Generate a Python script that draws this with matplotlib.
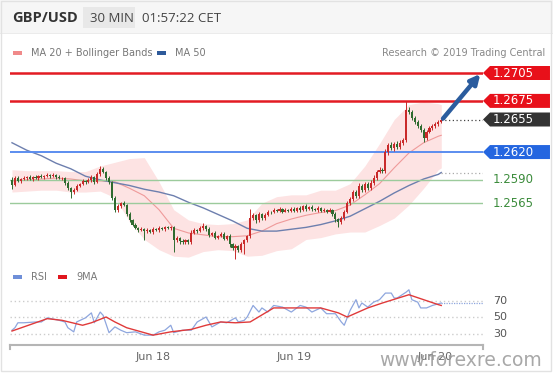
import matplotlib
matplotlib.use("Agg")
import matplotlib.pyplot as plt
import numpy as np
from matplotlib.patches import Polygon, Rectangle
from matplotlib.transforms import blended_transform_factory

# ---- price data: 30-min candles, Jun 17 00:00 -> Jun 20 01:00 ----
first_open = 1.2590
close = [
    1.2585, 1.2592, 1.2589, 1.2591, 1.2592, 1.2593, 1.2591, 1.2593, 1.2592, 1.2594,
    1.2593, 1.2594, 1.2595, 1.2594, 1.2595, 1.2593, 1.2592, 1.2592, 1.2587, 1.2581,
    1.2577, 1.2579, 1.2584, 1.2586, 1.2589, 1.2588, 1.2590, 1.2593, 1.2588, 1.2596,
    1.2602, 1.2599, 1.2592, 1.2588, 1.2571, 1.2558, 1.2562, 1.2565, 1.2563, 1.2553,
    1.2547, 1.2542, 1.2538, 1.2536, 1.2537, 1.2535, 1.2536, 1.2534, 1.2537, 1.2536,
    1.2538, 1.2537, 1.2539, 1.2538, 1.2539, 1.2525, 1.2528, 1.2524, 1.2523, 1.2525,
    1.2523, 1.2533, 1.2536, 1.2535, 1.2538, 1.2541, 1.2537, 1.2531, 1.2533, 1.2528,
    1.2530, 1.2532, 1.2527, 1.2530, 1.2521, 1.2517, 1.2519, 1.2515, 1.2521, 1.2525,
    1.2530, 1.2549, 1.2552, 1.2547, 1.2553, 1.2549, 1.2552, 1.2556, 1.2555, 1.2558,
    1.2557, 1.2559, 1.2556, 1.2558, 1.2557, 1.2559, 1.2557, 1.2560, 1.2558, 1.2562,
    1.2559, 1.2561, 1.2559, 1.2558, 1.2560, 1.2557, 1.2558, 1.2556, 1.2558, 1.2553,
    1.2548, 1.2545, 1.2549, 1.2556, 1.2565, 1.2569, 1.2577, 1.2573, 1.2584, 1.2579,
    1.2586, 1.2581, 1.2587, 1.2592, 1.2599, 1.2601, 1.2600, 1.2620, 1.2628, 1.2624,
    1.2629, 1.2625, 1.2630, 1.2633, 1.2665, 1.2663, 1.2657, 1.2652, 1.2648, 1.2644,
    1.2635, 1.2642, 1.2646, 1.2648, 1.2650, 1.2652, 1.2655,
]
# wick lengths beyond the body, in pips
wick_up = [
    3, 2, 2, 1, 2, 1, 2, 1, 2, 1, 2, 1, 2, 1, 2,
    1, 2, 1, 1, 2, 1, 2, 2, 1, 2, 1, 2, 2, 1, 3,
    3, 2, 1, 2, 1, 2, 2, 1, 2, 1, 2, 1, 2, 1, 2,
    1, 2, 1, 2, 1, 2, 1, 2, 2, 1, 1, 2, 1, 2, 1,
    2, 3, 2, 1, 2, 3, 1, 2, 1, 2, 1, 2, 2, 1, 2,
    1, 2, 1, 2, 2, 1, 10, 2, 1, 2, 1, 2, 2, 1, 2,
    1, 2, 1, 2, 1, 2, 2, 1, 2, 1, 2, 1, 2, 1, 2,
    1, 2, 1, 2, 1, 2, 1, 2, 2, 2, 3, 2, 2, 3, 2,
    2, 2, 3, 3, 2, 3, 2, 3, 2, 3, 2, 3, 3, 2, 10,
    3, 2, 2, 2, 2, 2, 2, 2, 2, 2, 2, 1,
]
wick_dn = [
    5, 2, 1, 2, 1, 2, 1, 2, 1, 2, 1, 2, 1, 2, 1,
    2, 1, 2, 2, 2, 6, 2, 1, 2, 1, 2, 1, 2, 2, 1,
    2, 1, 2, 2, 3, 3, 2, 2, 1, 2, 2, 2, 1, 2, 1,
    10, 2, 1, 2, 1, 2, 1, 2, 1, 2, 13, 2, 3, 2, 2,
    2, 2, 1, 2, 1, 2, 2, 2, 1, 2, 2, 1, 2, 2, 3,
    2, 12, 2, 2, 11, 2, 2, 2, 3, 2, 2, 2, 1, 2, 1,
    2, 1, 2, 1, 2, 1, 2, 1, 2, 1, 2, 1, 2, 1, 2,
    2, 1, 2, 1, 2, 3, 6, 2, 2, 2, 2, 2, 2, 2, 2,
    2, 2, 2, 2, 2, 2, 2, 2, 3, 2, 3, 2, 2, 2, 2,
    2, 3, 2, 2, 2, 4, 2, 2, 2, 2, 2, 1,
]

# indicators, read every 5th candle
ind_idx = [0, 5, 10, 15, 20, 25, 30, 35, 40, 45, 50, 55, 60, 65, 70, 75, 80, 85,
           90, 95, 100, 105, 110, 115, 120, 125, 130, 135, 140, 145, 146]
ma50 = [1.2630, 1.2622, 1.2616, 1.2608, 1.2602, 1.2594, 1.2590, 1.2587, 1.2584, 1.2580,
        1.2577, 1.2573, 1.2566, 1.2560, 1.2553, 1.2546, 1.2538, 1.2535, 1.2535, 1.2537,
        1.2539, 1.2542, 1.2546, 1.2551, 1.2559, 1.2567, 1.2576, 1.2584, 1.2591, 1.2596,
        1.2598]
ma20 = [1.2589, 1.2590, 1.2591, 1.2592, 1.2591, 1.2589, 1.2589, 1.2588, 1.2581, 1.2573,
        1.2558, 1.2538, 1.2533, 1.2531, 1.2529, 1.2529, 1.2530, 1.2535, 1.2543, 1.2548,
        1.2552, 1.2555, 1.2557, 1.2563, 1.2574, 1.2586, 1.2603, 1.2619, 1.2630, 1.2637,
        1.2638]
bb_upper = [1.2601, 1.2600, 1.2600, 1.2600, 1.2599, 1.2599, 1.2605, 1.2609, 1.2613, 1.2614,
            1.2588, 1.2558, 1.2547, 1.2543, 1.2542, 1.2543, 1.2547, 1.2565, 1.2572, 1.2574,
            1.2574, 1.2579, 1.2579, 1.2586, 1.2605, 1.2629, 1.2655, 1.2671, 1.2674, 1.2672,
            1.2671]
bb_lower = [1.2577, 1.2578, 1.2579, 1.2579, 1.2577, 1.2577, 1.2578, 1.2571, 1.2545, 1.2526,
            1.2515, 1.2508, 1.2507, 1.2513, 1.2515, 1.2514, 1.2508, 1.2509, 1.2514, 1.2516,
            1.2526, 1.2528, 1.2532, 1.2534, 1.2534, 1.2541, 1.2549, 1.2563, 1.2581, 1.2601,
            1.2603]

rsi_idx = [0, 1, 2, 4, 8, 10, 12, 16, 18, 19, 21, 22, 25, 27, 28, 30, 31, 33, 35, 37,
           39, 42, 45, 48, 50, 52, 54, 55, 58, 61, 63, 66, 67, 68, 71, 73, 76, 77, 79, 80,
           82, 84, 85, 87, 89, 92, 95, 98, 100, 102, 105, 107, 110, 112, 113, 114, 115, 117,
           118, 119, 121, 123, 125, 127, 129, 130, 131, 134, 135, 136, 138, 139, 141, 143,
           145, 146]
rsi_val = [34, 37, 43, 43, 44, 44, 49, 46, 44, 37, 32, 44, 49, 55, 43, 56, 52, 31, 38, 34,
           31, 32, 28, 28, 32, 34, 40, 31, 34, 34, 44, 50, 44, 38, 44, 43, 49, 44, 46, 50,
           64, 56, 61, 56, 64, 62, 56, 64, 62, 56, 61, 54, 54, 44, 40, 49, 58, 71,
           61, 67, 62, 68, 71, 79, 79, 73, 73, 80, 83, 71, 68, 61, 61, 64,
           66, 67]
rsi_ma_idx = [0, 12, 17, 24, 27, 32, 35, 39, 45, 48, 54, 61, 66, 71, 76, 81, 89, 105,
              111, 114, 121, 126, 135, 145, 146]
rsi_ma_val = [33, 48, 46, 40, 43, 50, 44, 37, 31, 28, 32, 35, 40, 44, 43, 44, 61, 61,
              55, 50, 61, 67, 77, 65, 64]

day_idx = [48, 96, 144]
day_labels = ["Jun 18", "Jun 19", "Jun 20"]

levels = [1.2705, 1.2675, 1.2620, 1.2590, 1.2565]
level_kind = ["res", "res", "pivot", "sup", "sup"]
rsi_levels = [70, 50, 30]

# ---- figure ----
W, H = 553, 375
fig = plt.figure(figsize=(W / 100, H / 100), dpi=100)
fig.patch.set_facecolor("white")


def px_axes(x0, y0, x1, y1):
    return fig.add_axes((x0 / W, 1 - y1 / H, (x1 - x0) / W, (y1 - y0) / H))


def ftext(x, y, s, **kw):
    kw.setdefault("va", "center")
    return fig.text(x / W, 1 - y / H, s, **kw)


def frect(x0, y0, x1, y1, **kw):
    fig.patches.append(Rectangle((x0 / W, 1 - y1 / H), (x1 - x0) / W, (y1 - y0) / H,
                                 transform=fig.transFigure, **kw))


# header strip and frame
frect(0, 0, W, 33, facecolor="#f6f6f6", edgecolor="none")
frect(0, 33, W, 34, facecolor="#ebebeb", edgecolor="none")
frect(83, 7, 135, 28, facecolor="#e8e8e8", edgecolor="none")
frect(1, 1, W - 2, H - 4, facecolor="none", edgecolor="#e2e2e2", lw=1)
ftext(12, 18, "GBP/USD", fontsize=10.5, fontweight="bold", color="#333333",
      family="Open Sans")
ftext(90, 18, "30 MIN", fontsize=9.5, color="#444444", family="Open Sans")
ftext(142, 18, "01:57:22 CET", fontsize=9.5, color="#444444", family="Open Sans")

# legends
frect(13, 51, 22, 55, facecolor="#f08a8a", edgecolor="none")
ftext(31, 53, "MA 20 + Bollinger Bands", fontsize=7, color="#777777")
frect(157, 51, 166, 55, facecolor="#2e5a9a", edgecolor="none")
ftext(175, 53, "MA 50", fontsize=7, color="#777777")
ftext(545, 53, "Research \u00a9 2019 Trading Central", fontsize=7, color="#888888", ha="right")
frect(13, 275, 22, 279, facecolor="#6f8fd8", edgecolor="none")
ftext(31, 277, "RSI", fontsize=7, color="#777777")
frect(58, 275, 67, 279, facecolor="#e0161e", edgecolor="none")
ftext(76, 277, "9MA", fontsize=7, color="#777777")

# ---- main price panel ----
ax = px_axes(10, 62, 483, 262)
xlim = (-0.68, 160.2)
ax.set_xlim(*xlim)
ax.set_ylim(1.250177, 1.271683)
ax.axis("off")

idx = np.arange(len(close))
c = np.array(close)
o = np.array([first_open] + close[:-1])
hi = np.maximum(o, c) + np.array(wick_up) * 1e-4
lo = np.minimum(o, c) - np.array(wick_dn) * 1e-4
colors = np.where(c >= o, "#c92a2a", "#2f6b30")

ax.fill_between(ind_idx, bb_lower, bb_upper, color="#fde3e3", lw=0, zorder=1)
ax.plot(ind_idx, ma20, color="#ef9a9a", lw=0.8, zorder=2)
ax.plot(ind_idx, ma50, color="#6d7fae", lw=1.0, zorder=2)
ax.plot([ind_idx[-1], xlim[1]], [ma50[-1]] * 2, ls=(0, (1, 2)), color="#aaaaaa", lw=0.9)

for lv, kind in zip(levels, level_kind):
    if kind == "res":
        ax.axhline(lv, color="#e31b23", lw=1.8, zorder=3)
    elif kind == "pivot":
        ax.axhline(lv, color="#5b8def", lw=1.4, zorder=3)
    else:
        ax.axhline(lv, color="#9ccb9c", lw=1.0, zorder=3)

ax.vlines(idx, lo, hi, colors=colors, lw=0.7, zorder=4)
body = np.maximum(np.abs(c - o), 0.00006)
ax.bar(idx, body, bottom=np.minimum(o, c), width=0.72, color=colors, lw=0, zorder=5)

ax.plot([idx[-1], xlim[1]], [close[-1]] * 2, ls=(0, (1, 2)), color="#444444", lw=0.9)
ax.annotate("", xy=(159.3, levels[0] - 0.0001), xytext=(idx[-1] + 0.6, close[-1] + 0.0001),
            arrowprops=dict(arrowstyle="-|>", color="#2b5c9e", lw=3.2,
                            mutation_scale=14, shrinkA=0, shrinkB=0), zorder=6)

# right-hand price tags
tr = blended_transform_factory(ax.transAxes, ax.transData)
tag_h = 7 / 9300
x_tip, x_body, x_end, x_txt = 1.0, 1.0148, 1.1416, 1.0211
tags = [(levels[0], "#e8101a"), (levels[1], "#e8101a"), (close[-1], "#333333"),
        (levels[2], "#2466e0")]
for p, col in tags:
    poly = Polygon([(x_tip, p), (x_body, p + tag_h), (x_end, p + tag_h),
                    (x_end, p - tag_h), (x_body, p - tag_h)], closed=True,
                   transform=tr, facecolor=col, edgecolor="none", clip_on=False)
    ax.add_patch(poly)
    ax.text(x_txt, p, f"{p:.4f}", transform=tr, color="white", fontsize=8.5,
            va="center", ha="left", clip_on=False)
for lv in levels[3:]:
    ax.text(x_txt, lv, f"{lv:.4f}", transform=tr, color="#3c8c3c", fontsize=8.5,
            va="center", ha="left", clip_on=False)

# ---- RSI panel ----
ax2 = px_axes(10, 285, 483, 345)
ax2.set_xlim(*xlim)
ax2.set_ylim(16.06, 88.8)
for s in ("top", "left", "right"):
    ax2.spines[s].set_visible(False)
ax2.spines["bottom"].set_color("#b5b5b5")
ax2.spines["bottom"].set_linewidth(1.5)
ax2.set_xticks([])
ax2.set_yticks([])
ax2.set_facecolor("none")
for xe in (0, 1):
    ax2.plot([xe, xe], [0, -0.07], transform=ax2.transAxes, color="#b5b5b5", lw=1.5,
             clip_on=False)

for lv in rsi_levels:
    ax2.axhline(lv, color="#cccccc", ls=(0, (1, 2)), lw=1.0)
ax2.plot(rsi_idx, rsi_val, color="#8ea6de", lw=0.9)
ax2.plot(rsi_ma_idx, rsi_ma_val, color="#e03a3a", lw=1.0)
ax2.plot([rsi_idx[-1], xlim[1]], [rsi_val[-1]] * 2, ls=(0, (1, 1)), color="#8ea6de", lw=0.9)

tr2 = blended_transform_factory(ax2.transAxes, ax2.transData)
for lv in rsi_levels:
    ax2.text(x_txt, lv, str(lv), transform=tr2, color="#555555", fontsize=8,
             va="center", ha="left", clip_on=False)

trd = blended_transform_factory(ax2.transData, ax2.transAxes)
for d, lab in zip(day_idx, day_labels):
    ax2.text(d, -0.2, lab, transform=trd, color="#666666", fontsize=8,
             ha="center", va="center", clip_on=False)

ftext(461, 360, "www.forexre.com", fontsize=13.5, color="#999999", ha="center", alpha=0.85)

fig.savefig("out.png", dpi=100)
